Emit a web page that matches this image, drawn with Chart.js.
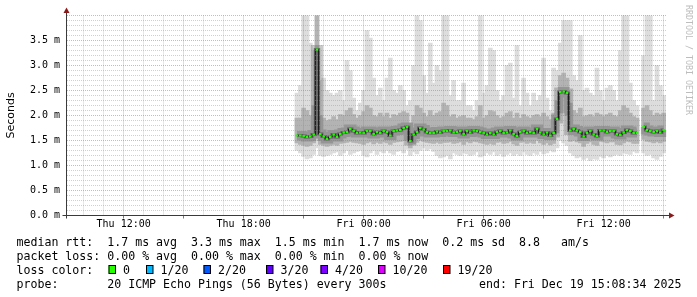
<!DOCTYPE html>
<html><head><meta charset="utf-8">
<script src="https://cdn.jsdelivr.net/npm/chart.js@4/dist/chart.umd.min.js"></script>
<style>html,body{margin:0;padding:0;background:#fff;}canvas{display:block;}</style>
</head><body>
<canvas id="c" width="697" height="297"></canvas>
<script>
// ---- data (10-minute samples, starting Thu 20:40) ----
const startHour = 20 + 40 / 60;
const stepHours = 1 / 6;
const median = [
 1.60,1.60,1.59,1.57,1.58,1.62,3.32,1.63,1.58,1.53,
 1.57,1.62,1.57,1.63,1.66,1.67,1.73,1.69,1.65,1.66,
 1.65,1.69,1.69,1.63,1.67,1.65,1.69,1.67,1.60,1.69,
 1.70,1.71,1.75,1.77,1.49,1.62,1.67,1.75,1.72,1.67,
 1.65,1.65,1.68,1.66,1.69,1.69,1.70,1.66,1.67,1.69,
 1.63,1.69,1.66,1.70,1.69,1.67,1.65,1.62,1.65,1.62,
 1.67,1.69,1.65,1.66,1.70,1.63,1.59,1.67,1.69,1.65,
 1.67,1.65,1.73,1.66,1.62,1.66,1.60,1.65,1.93,2.47,
 2.48,2.45,1.70,1.73,1.70,1.67,1.58,1.65,1.69,1.62,
 1.59,1.70,1.70,1.67,1.69,1.69,1.63,1.61,1.66,1.71,
 1.69,1.65,1.65,null,1.77,1.71,1.69,1.67,1.69,1.66,1.71];
const pingMin = [
 1.30,1.25,1.18,1.13,1.15,1.22,1.35,1.20,1.18,1.20,
 1.22,1.25,1.27,1.20,1.25,1.30,1.22,1.25,1.28,1.30,
 1.20,1.17,1.25,1.30,1.22,1.28,1.25,1.30,1.25,1.22,
 1.28,1.30,1.25,1.32,1.20,1.27,1.23,1.30,1.35,1.30,
 1.33,1.28,1.20,1.15,1.17,1.20,1.13,1.25,1.22,1.20,
 1.25,1.23,1.20,1.22,1.27,1.17,1.20,1.25,1.22,1.27,
 1.20,1.23,1.18,1.22,1.25,1.20,1.23,1.20,1.27,1.22,
 1.20,1.25,1.22,1.28,1.23,1.25,1.30,1.27,1.35,1.50,
 1.45,1.40,1.25,1.20,1.15,1.17,1.12,1.15,1.10,1.13,
 1.12,1.18,1.15,1.20,1.17,1.20,1.22,1.20,1.25,1.23,
 1.22,1.28,1.25,null,1.25,1.20,1.22,1.15,1.12,1.18,1.25];
const pingLow = [
 1.45,1.42,1.40,1.38,1.40,1.45,1.55,1.42,1.40,1.38,
 1.40,1.42,1.40,1.44,1.45,1.46,1.48,1.46,1.45,1.44,
 1.42,1.45,1.47,1.43,1.46,1.44,1.47,1.45,1.42,1.46,
 1.47,1.48,1.50,1.50,1.35,1.43,1.46,1.50,1.48,1.46,
 1.45,1.44,1.46,1.44,1.46,1.46,1.47,1.44,1.45,1.47,
 1.42,1.47,1.45,1.48,1.47,1.45,1.44,1.42,1.44,1.42,
 1.46,1.47,1.44,1.45,1.48,1.43,1.40,1.46,1.47,1.44,
 1.46,1.44,1.50,1.45,1.42,1.45,1.41,1.44,1.65,2.05,
 2.05,2.00,1.48,1.50,1.47,1.45,1.38,1.44,1.47,1.42,
 1.40,1.48,1.47,1.45,1.47,1.47,1.42,1.41,1.45,1.48,
 1.47,1.44,1.44,null,1.52,1.48,1.47,1.45,1.47,1.45,1.48];
const pingHigh = [
 1.95,1.95,2.15,2.10,2.00,2.20,4.10,2.00,1.95,1.90,
 1.92,1.98,1.92,2.02,2.00,2.10,2.15,2.02,1.95,2.00,
 2.08,2.20,2.15,2.00,1.98,2.05,1.98,2.05,1.95,2.02,
 2.00,2.05,2.08,2.05,1.85,2.00,2.20,2.15,2.05,1.98,
 2.10,2.00,2.05,2.08,2.25,2.20,1.98,2.02,1.95,1.98,
 2.00,1.95,1.95,1.92,1.98,2.20,1.95,2.00,2.10,2.08,
 2.00,1.95,1.98,2.05,2.08,1.95,2.05,1.95,2.02,1.98,
 1.95,2.00,2.02,1.98,2.05,1.98,1.92,2.05,2.30,2.80,
 2.85,2.75,2.25,2.10,2.05,2.15,1.98,2.00,2.02,1.98,
 2.05,2.02,1.98,2.02,2.05,2.00,1.98,2.10,2.20,2.15,
 2.05,1.98,1.95,null,2.15,2.20,2.10,2.00,2.05,2.02,2.05];
const pingMax = [
 2.45,2.60,4.10,4.10,3.45,3.30,4.10,2.70,2.75,2.50,
 2.45,2.40,2.45,2.50,2.30,3.10,2.90,2.35,2.10,2.25,
 2.50,3.70,3.55,2.75,2.40,2.55,2.30,2.75,3.15,2.50,
 2.45,2.60,2.50,2.20,2.30,3.00,4.10,3.90,2.80,2.45,
 3.45,2.65,3.00,2.90,4.10,4.10,2.40,2.70,2.30,2.30,
 2.65,2.20,2.20,2.10,2.30,4.10,2.45,2.60,3.35,3.30,
 2.50,2.30,2.40,3.00,3.05,2.35,3.40,2.20,2.75,2.45,
 2.20,2.45,2.30,2.40,3.15,2.35,2.10,2.95,2.90,3.45,
 3.90,3.90,3.90,2.80,2.70,3.60,2.50,2.55,2.45,2.40,
 2.95,2.50,2.30,2.55,2.60,2.50,2.30,3.30,4.10,4.10,
 2.65,2.30,2.20,null,3.20,4.10,4.00,2.30,3.00,2.60,2.40];

const xMinHour = 9 + 8 / 60 + 34 / 3600;   // Thu 09:08:34
const xMaxHour = 39 + 8 / 60 + 34 / 3600;  // Fri 15:08:34
const xTickHours = [12, 18, 24, 30, 36];
const xTickLabels = ['Thu 12:00', 'Thu 18:00', 'Fri 00:00', 'Fri 06:00', 'Fri 12:00'];
const yMajorValues = [0, 0.5, 1, 1.5, 2, 2.5, 3, 3.5];
const yTickLabels = ['0.0 m', '0.5 m', '1.0 m', '1.5 m', '2.0 m', '2.5 m', '3.0 m', '3.5 m'];

const rttStats = ['1.7', '3.3', '1.5', '1.7', '0.2', '8.8'];
const lossStats = ['0.00', '0.00', '0.00', '0.00'];
const lossLabels = ['0', '1/20', '2/20', '3/20', '4/20', '10/20', '19/20'];
const lossColors = ['#26ff00', '#00b8ff', '#0059ff', '#5e00ff', '#7e00ff', '#dd00ff', '#ff0000'];
const probeText = '20 ICMP Echo Pings (56 Bytes) every 300s';
const endText = 'end: Fri Dec 19 15:08:34 2025';

// ---- build ----
const times = median.map((_, i) => startHour + i * stepHours);
const band = (a, b) => a.map((v, i) => ({ x: times[i], y: (v == null || b[i] == null) ? null : [v, b[i]] }));
const line = arr => arr.map((v, i) => ({ x: times[i], y: v }));

const MONO = '"DejaVu Sans Mono", monospace';
const isMajorY = v => Math.round(v * 10) % 5 === 0;
const MINOR = 'rgba(150,150,150,0.45)';
const MAJOR = 'rgba(220,90,90,0.5)';

const overlay = {
  id: 'overlay',
  afterDraw(chart) {
    const ctx = chart.ctx;
    const ca = chart.chartArea;
    ctx.save();
    // axes
    ctx.strokeStyle = '#3a3a3a';
    ctx.lineWidth = 1;
    ctx.beginPath();
    ctx.moveTo(ca.left, ca.bottom + 3); ctx.lineTo(ca.left, 11);
    ctx.moveTo(ca.left - 4, ca.bottom); ctx.lineTo(ca.right + 4, ca.bottom);
    ctx.stroke();
    ctx.fillStyle = '#8b1a1a';
    ctx.beginPath();
    ctx.moveTo(ca.left - 3, 13); ctx.lineTo(ca.left + 3, 13); ctx.lineTo(ca.left, 7.5); ctx.closePath(); ctx.fill();
    ctx.beginPath();
    ctx.moveTo(ca.right + 2.5, ca.bottom - 3); ctx.lineTo(ca.right + 2.5, ca.bottom + 3); ctx.lineTo(ca.right + 8, ca.bottom); ctx.closePath(); ctx.fill();

    // watermark
    ctx.save();
    ctx.translate(688, 5);
    ctx.rotate(Math.PI / 2);
    ctx.font = '8.3px ' + MONO;
    ctx.fillStyle = '#bdbdbd';
    ctx.textBaseline = 'middle';
    ctx.textAlign = 'left';
    ctx.fillText('RRDTOOL / TOBI OETIKER', 0, 0);
    ctx.restore();

    // legend text
    ctx.font = '11.6px ' + MONO;
    ctx.fillStyle = '#000';
    ctx.textBaseline = 'alphabetic';
    ctx.textAlign = 'left';
    const r = rttStats;
    ctx.fillText(`median rtt:  ${r[0]} ms avg  ${r[1]} ms max  ${r[2]} ms min  ${r[3]} ms now  ${r[4]} ms sd  ${r[5]}   am/s`, 16.5, 245.5);
    const l = lossStats;
    ctx.fillText(`packet loss: ${l[0]} % avg  ${l[1]} % max  ${l[2]} % min  ${l[3]} % now`, 16.5, 259.5);
    ctx.fillText('loss color:', 16.5, 273.5);
    const boxX = [108.5, 146, 203.5, 266, 320.5, 378, 443];
    lossLabels.forEach((lab, k) => {
      ctx.fillStyle = lossColors[k];
      ctx.fillRect(boxX[k], 265, 7, 8.5);
      ctx.strokeStyle = '#000';
      ctx.strokeRect(boxX[k] + 0.5, 265.5, 6.5, 8);
      ctx.fillStyle = '#000';
      ctx.fillText(lab, boxX[k] + 14.5, 273.5);
    });
    ctx.fillText('probe:       ' + probeText, 16.5, 287.5);
    ctx.fillText(endText, 479, 287.5);
    ctx.restore();
  }
};

new Chart(document.getElementById('c'), {
  type: 'bar',
  data: {
    datasets: [
      { type: 'line', data: line(median), order: 1, showLine: false,
        pointStyle: 'line', pointRadius: 1.3, pointBorderWidth: 2.2,
        pointBorderColor: '#22ff00', pointBackgroundColor: '#22ff00', pointHoverRadius: 0 },
      { type: 'line', data: line(median), order: 2, stepped: 'middle', borderColor: '#111',
        borderWidth: 1, pointRadius: 0, spanGaps: false, fill: false },
      { type: 'line', data: line(median), order: 3, stepped: 'middle', borderColor: 'rgba(40,40,40,0.5)',
        borderWidth: 3, pointRadius: 0, spanGaps: false, fill: false },
      { type: 'line', data: line(median), order: 4, stepped: 'middle', borderColor: 'rgba(80,80,80,0.3)',
        borderWidth: 9, pointRadius: 0, spanGaps: false, fill: false },
      { data: band(pingLow, pingHigh), order: 5, backgroundColor: '#b3b3b3', borderWidth: 0,
        barThickness: 4, grouped: false },
      { data: band(pingMin, pingMax), order: 6, backgroundColor: '#dddddd', borderWidth: 0,
        barThickness: 4, grouped: false }
    ]
  },
  options: {
    responsive: false,
    devicePixelRatio: 1,
    animation: false,
    events: [],
    layout: { padding: { top: 15.5, right: 30.5, bottom: 0, left: 0 } },
    plugins: { legend: { display: false }, tooltip: { enabled: false } },
    scales: {
      x: {
        type: 'linear', min: xMinHour, max: xMaxHour, offset: false,
        afterBuildTicks: s => { const t = []; for (let h = 10; h <= 39; h++) t.push({ value: h }); s.ticks = t; },
        afterFit: s => { s.height = 81.5; },
        ticks: {
          autoSkip: false, maxRotation: 0, padding: 0, color: '#000',
          font: { family: MONO, size: 10 },
          callback: v => { const k = xTickHours.indexOf(v); return k >= 0 ? xTickLabels[k] : ''; }
        },
        grid: {
          z: 1, offset: false, drawTicks: true, tickLength: 3, tickWidth: 1,
          color: c => (c.tick && c.tick.value % 3 === 0) ? MAJOR : MINOR,
          tickColor: c => (c.tick && c.tick.value % 3 === 0) ? 'rgba(170,60,60,0.8)' : 'rgba(0,0,0,0)'
        },
        border: { display: false, dash: [1, 1] }
      },
      y: {
        type: 'linear', min: 0, max: 4,
        afterBuildTicks: s => { const t = []; for (let k = 0; k <= 40; k++) t.push({ value: k / 10 }); s.ticks = t; },
        afterFit: s => { s.width = 66.5; },
        ticks: {
          autoSkip: false, padding: 6.5, color: '#000',
          font: { family: MONO, size: 10 },
          callback: v => { const k = yMajorValues.findIndex(m => Math.abs(m - v) < 1e-6); return k >= 0 ? yTickLabels[k] : ''; }
        },
        grid: {
          z: 1, drawTicks: false,
          color: c => (c.tick && isMajorY(c.tick.value)) ? MAJOR : MINOR
        },
        border: { display: false, dash: [1, 1] },
        title: { display: true, text: 'Seconds', color: '#000',
          font: { family: '"DejaVu Sans", sans-serif', size: 11 }, padding: { top: 5, bottom: 0 } }
      }
    }
  },
  plugins: [overlay]
});
</script>
</body></html>
